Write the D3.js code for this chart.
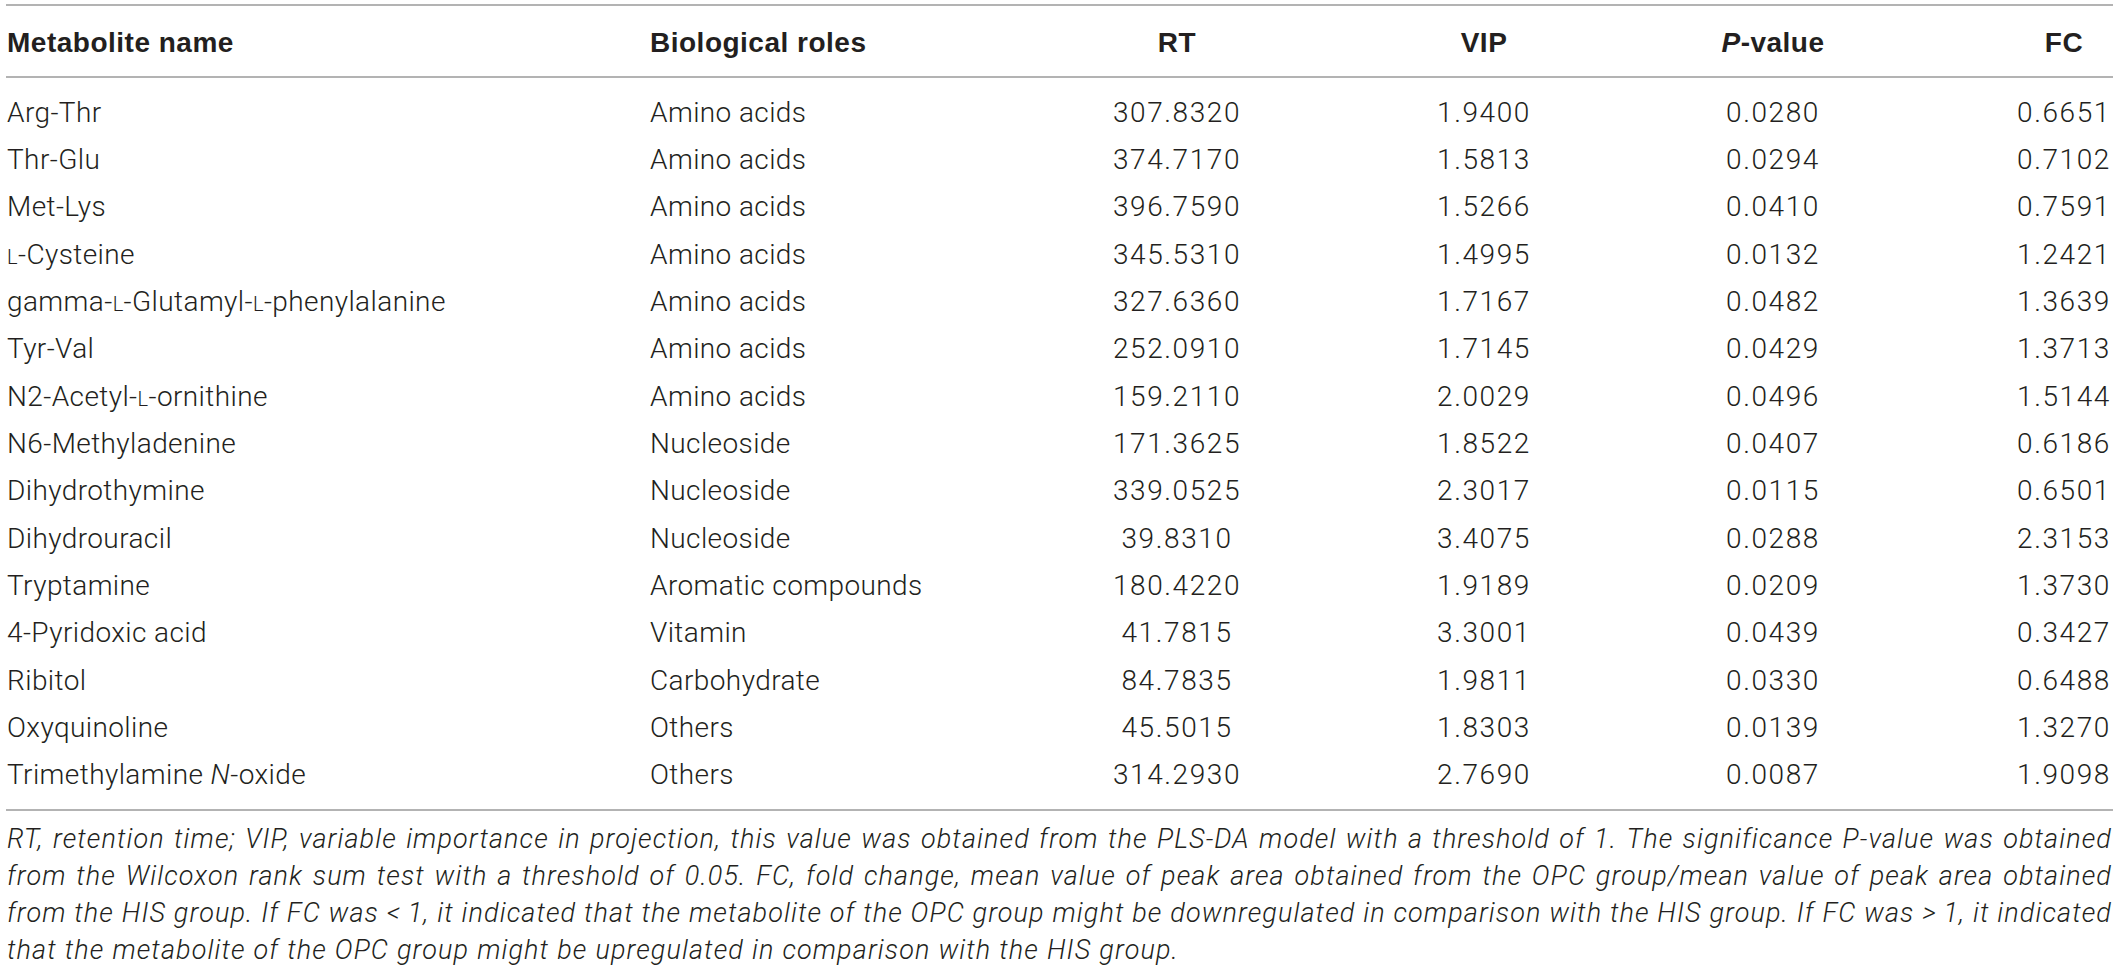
<!DOCTYPE html>
<html>
<head>
<meta charset="utf-8">
<title>Metabolites</title>
<style>
  body { margin: 0; background: #fff; }
  svg { display: block; }
  text { fill: #231f20; }
  .cell { font-family: Roboto, sans-serif; font-weight: 300; font-size: 28px; letter-spacing: 0.4px; }
  .num { letter-spacing: 1.6px; }
  .head { font-family: "Liberation Sans", Arial, sans-serif; font-weight: 700; font-size: 28px; letter-spacing: 0.5px; }
  .note { font-family: Roboto, sans-serif; font-weight: 300; font-style: italic; font-size: 27px; letter-spacing: 1.1px; }
  .rule { stroke: #9a9a9a; stroke-width: 1.5; }
</style>
<script src="https://d3js.org/d3.v7.min.js"></script>
</head>
<body>
<svg id="table" width="2119" height="971"></svg>
<script>
var headers = ["Metabolite name", "Biological roles", "RT", "VIP", "P-value", "FC"];

var names = [
  "Arg-Thr", "Thr-Glu", "Met-Lys", "L-Cysteine", "gamma-L-Glutamyl-L-phenylalanine",
  "Tyr-Val", "N2-Acetyl-L-ornithine", "N6-Methyladenine", "Dihydrothymine", "Dihydrouracil",
  "Tryptamine", "4-Pyridoxic acid", "Ribitol", "Oxyquinoline", "Trimethylamine N-oxide"
];
var roles = [
  "Amino acids", "Amino acids", "Amino acids", "Amino acids", "Amino acids",
  "Amino acids", "Amino acids", "Nucleoside", "Nucleoside", "Nucleoside",
  "Aromatic compounds", "Vitamin", "Carbohydrate", "Others", "Others"
];
var rt = [307.8320, 374.7170, 396.7590, 345.5310, 327.6360, 252.0910, 159.2110, 171.3625,
  339.0525, 39.8310, 180.4220, 41.7815, 84.7835, 45.5015, 314.2930];
var vip = [1.9400, 1.5813, 1.5266, 1.4995, 1.7167, 1.7145, 2.0029, 1.8522,
  2.3017, 3.4075, 1.9189, 3.3001, 1.9811, 1.8303, 2.7690];
var pValue = [0.0280, 0.0294, 0.0410, 0.0132, 0.0482, 0.0429, 0.0496, 0.0407,
  0.0115, 0.0288, 0.0209, 0.0439, 0.0330, 0.0139, 0.0087];
var fc = [0.6651, 0.7102, 0.7591, 1.2421, 1.3639, 1.3713, 1.5144, 0.6186,
  0.6501, 2.3153, 1.3730, 0.3427, 0.6488, 1.3270, 1.9098];

var notes = [
  "RT, retention time; VIP, variable importance in projection, this value was obtained from the PLS-DA model with a threshold of 1. The significance P-value was obtained",
  "from the Wilcoxon rank sum test with a threshold of 0.05. FC, fold change, mean value of peak area obtained from the OPC group/mean value of peak area obtained",
  "from the HIS group. If FC was <\u20091, it indicated that the metabolite of the OPC group might be downregulated in comparison with the HIS group. If FC was >\u20091, it indicated",
  "that the metabolite of the OPC group might be upregulated in comparison with the HIS group."
];

var left = 7, right = 2112;
var fmt = d3.format(".4f");
var svg = d3.select("#table");

// columns: x position and anchor
var columns = [
  { values: names, x: 7, anchor: "start" },
  { values: roles, x: 650, anchor: "start" },
  { values: rt.map(fmt), x: 1177, anchor: "middle" },
  { values: vip.map(fmt), x: 1484, anchor: "middle" },
  { values: pValue.map(fmt), x: 1773, anchor: "middle" },
  { values: fc.map(fmt), x: 2064, anchor: "middle" }
];

var y = d3.scalePoint()
  .domain(d3.range(names.length))
  .range([121.7, 784.3]);

var noteY = d3.scalePoint()
  .domain(d3.range(notes.length))
  .range([847.7, 959.3]);

// rules
svg.selectAll("line.rule")
  .data([5, 77, 810])
  .join("line")
  .attr("class", "rule")
  .attr("x1", 6).attr("x2", 2113)
  .attr("y1", function(d) { return d; })
  .attr("y2", function(d) { return d; });

// header
svg.selectAll("text.head")
  .data(headers)
  .join("text")
  .attr("class", "head")
  .attr("x", function(d, i) { return columns[i].x; })
  .attr("y", 51.7)
  .attr("text-anchor", function(d, i) { return columns[i].anchor; })
  .each(function(d) {
    var t = d3.select(this);
    if (d === "P-value") {
      t.append("tspan").style("font-style", "italic").text("P");
      t.append("tspan").text("-value");
    } else {
      t.text(d);
    }
  });

// split names into parts: small caps L and italic N
function nameParts(s) {
  return s.split(/((?:^|(?<=-))L(?=-)|N(?=-oxide))/).filter(function(p) { return p !== ""; });
}

columns.forEach(function(col, ci) {
  svg.selectAll("text.c" + ci)
    .data(col.values)
    .join("text")
    .attr("class", ci > 1 ? "cell num c" + ci : "cell c" + ci)
    .attr("x", col.x)
    .attr("y", function(d, i) { return y(i); })
    .attr("text-anchor", col.anchor)
    .each(function(d) {
      var t = d3.select(this);
      if (ci !== 0) { t.text(d); return; }
      nameParts(d).forEach(function(p) {
        var sp = t.append("tspan").text(p);
        if (p === "L") sp.style("font-size", "20px");
        if (p === "N") sp.style("font-style", "italic");
      });
    });
});

// footnote, justified
notes.forEach(function(line, i) {
  var words = line.split(" ");
  var t = svg.append("text").attr("class", "note").attr("y", noteY(i));
  var spans = t.selectAll("tspan").data(words).join("tspan").text(function(d) { return d; });
  var widths = spans.nodes().map(function(n) { return n.getComputedTextLength(); });
  var total = d3.sum(widths);
  var gap = i < notes.length - 1 ? (right - left - total) / (words.length - 1) : 8;
  var x = left;
  spans.attr("x", function(d, j) {
    var pos = x;
    x += widths[j] + gap;
    return pos;
  });
});
</script>
</body>
</html>
